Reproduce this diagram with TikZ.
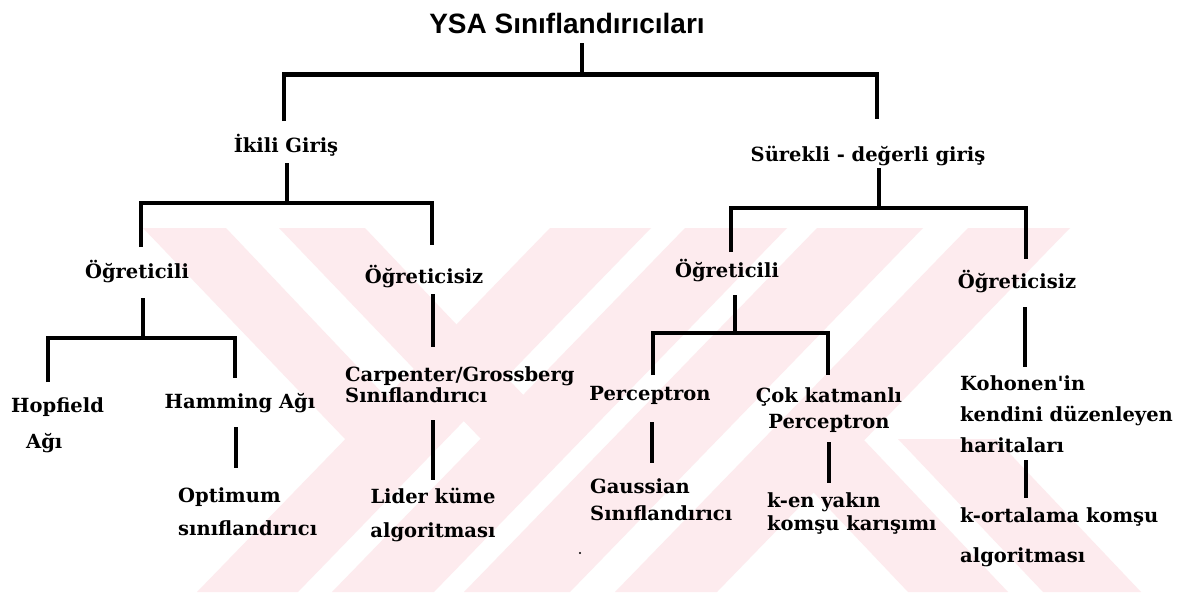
\documentclass[tikz,border=0pt]{standalone}
\usepackage{fontspec}
\setmainfont{DejaVu Serif}
\newfontfamily\titlefont{Liberation Sans}
\usetikzlibrary{calc}
\definecolor{wmpink}{RGB}{253,235,238}
\begin{document}
\begin{tikzpicture}[x=1pt,y=-1pt,
  lbl/.style={inner sep=0pt, font=\bfseries\fontsize{19.5}{19.5}\selectfont},
  ml/.style={inner sep=0pt, font=\bfseries\fontsize{19.5}{#1}\selectfont},
  ttl/.style={inner sep=0pt, font=\titlefont\bfseries\fontsize{28}{28}\selectfont},
  conn/.style={line width=4.8pt, line join=miter, line cap=butt},
  wm/.style={fill=wmpink, draw=none}]
\useasboundingbox (0,0) rectangle (1181,592);
\fill[white] (0,0) rectangle (1181,592);

% faint background emblem: diagonal stripes
\fill[wm] (550,228) -- (651,228) -- (298,592) -- (197,592) -- cycle;
\fill[wm] (685,228) -- (787,228) -- (434,592) -- (332,592) -- cycle;
\fill[wm] (817,228) -- (923,228) -- (570,592) -- (464,592) -- cycle;
\fill[wm] (968,228) -- (1070,228) -- (717,592) -- (615,592) -- cycle;
\fill[wm] (143,228) -- (226,228) -- (426,439) -- (345,439) -- cycle;
\fill[wm] (279,228) -- (365,228) -- (565,439) -- (481,439) -- cycle;
\fill[wm] (763,439) -- (863,439) -- (1008,592) -- (908,592) -- cycle;
\fill[wm] (898,439) -- (996,439) -- (1141,592) -- (1043,592) -- cycle;

% labels (multi-line labels are placed by the baseline of their last line)
\node[ttl, anchor=base] (root) at (567,33) {YSA Sınıflandırıcıları};
\node[lbl, anchor=base] (ikili) at (286,152) {İkili Giriş};
\node[lbl, anchor=base] (surekli) at (868,161) {Sürekli - değerli giriş};
\node[lbl, anchor=base] (ogL) at (137,278) {Öğreticili};
\node[lbl, anchor=base] (ogsL) at (424,283) {Öğreticisiz};
\node[lbl, anchor=base] (ogR) at (727,277) {Öğreticili};
\node[lbl, anchor=base] (ogsR) at (1017,288) {Öğreticisiz};
\node[lbl, anchor=base] (hamming) at (240,408) {Hamming Ağı};
\node[lbl, anchor=base] (perc) at (650,400) {Perceptron};
\node[ml=36, anchor=base west, align=left] (hopfield) at (11,448) {Hopfield\\\hspace*{15pt}Ağı};
\node[ml=33, anchor=base west, align=left] (optimum) at (178,535) {Optimum\\ sınıflandırıcı};
\node[ml=19, anchor=base west, align=left] (carp) at (345,402) {Carpenter/Grossberg\\Sınıflandırıcı};
\node[ml=34, anchor=base, align=center] (lider) at (433,537) {Lider küme\\algoritması};
\node[ml=27, anchor=base west, align=left] (gauss) at (590,520) {Gaussian\\Sınıflandırıcı};
\node[ml=26, anchor=base, align=center] (cok) at (829,428) {Çok katmanlı\\Perceptron};
\node[ml=23, anchor=base west, align=left] (ken) at (767,530) {k-en yakın\\ komşu karışımı};
\node[ml=31, anchor=base west, align=left] (koh) at (960,452) {Kohonen\textquotesingle in\\kendini düzenleyen\\haritaları};
\node[ml=40, anchor=base west, align=left] (kort) at (960,562) {k-ortalama komşu\\algoritması};

% tree connectors
\draw[conn] ($(root.base)+(15,10)$) -- ++(0,31.5) coordinate (j0);
\draw[conn] ($(ikili.base)+(-2,-31)$) |- (j0) -| ($(surekli.base)+(9,-42)$);

\draw[conn] ($(ikili.base)+(1,11)$) -- ++(0,40) coordinate (j1);
\draw[conn] ($(ogL.base)+(4,-31)$) |- (j1) -| ($(ogsL.base)+(8,-38)$);
\draw[conn] ($(surekli.base)+(11,7)$) -- ++(0,40) coordinate (j2);
\draw[conn] ($(ogR.base)+(4,-25)$) |- (j2) -| ($(ogsR.base)+(9,-29)$);

\draw[conn] ($(ogL.base)+(6,20)$) -- ++(0,40) coordinate (j3);
\draw[conn] ($(hopfield.base west)+(37,-66)$) |- (j3) -| ($(hamming.base)+(-5,-30)$);
\draw[conn] ($(ogR.base)+(8,18)$) -- ++(0,38) coordinate (j5);
\draw[conn] ($(perc.base)+(3,-25)$) |- (j5) -| ($(cok.base)+(-1,-53)$);

\draw[conn] ($(ogsL.base)+(9,11)$) -- ($(carp.base west)+(88,-55)$);
\draw[conn] ($(carp.base west)+(88,18)$) -- ($(lider.base)+(0,-57)$);
\draw[conn] ($(hamming.base)+(-4,19)$) -- ($(optimum.base west)+(58,-67)$);
\draw[conn] ($(perc.base)+(2,22)$) -- ($(gauss.base west)+(62,-57)$);
\draw[conn] ($(cok.base)+(0,14)$) -- ($(ken.base west)+(62,-47)$);
\draw[conn] ($(ogsR.base)+(8,19)$) -- ($(koh.base west)+(65,-85)$);
\draw[conn] ($(koh.base west)+(66,8)$) -- ($(kort.base west)+(66,-64)$);

% stray speck
\fill (580,553) circle (1.2);
\end{tikzpicture}
\end{document}
